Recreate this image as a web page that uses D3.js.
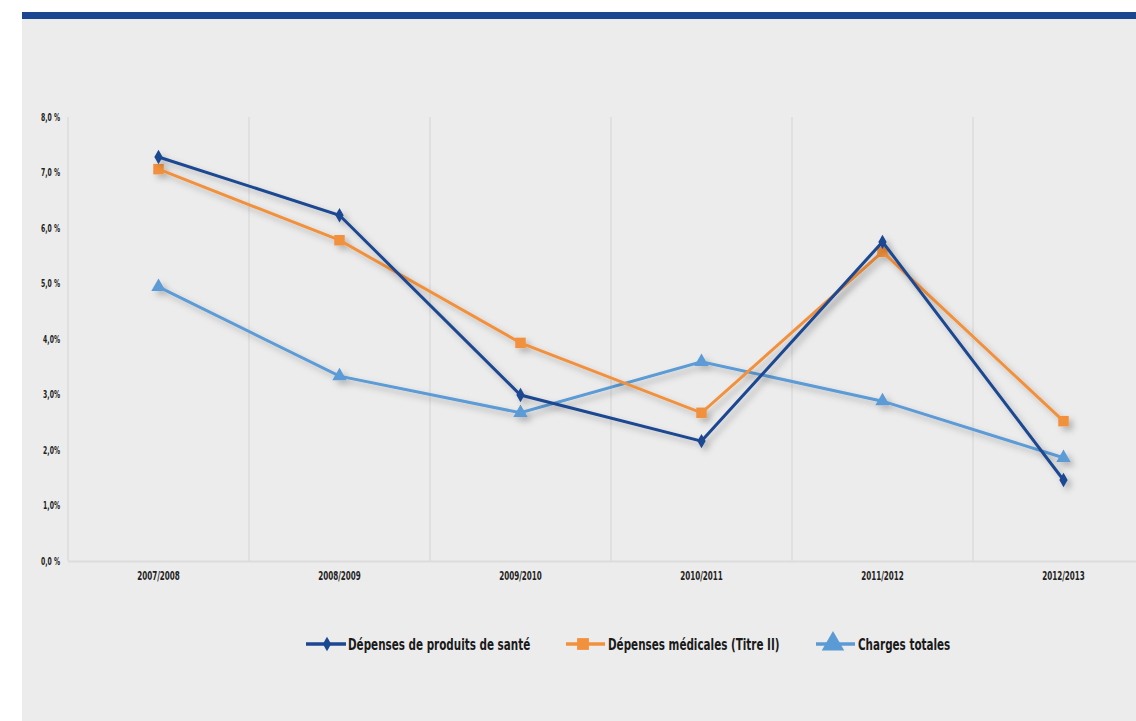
<!DOCTYPE html>
<html><head><meta charset="utf-8">
<script src="https://cdn.jsdelivr.net/npm/d3@7"></script>
<style>
html,body{margin:0;padding:0;background:#fff;}
svg{display:block;}
text{font-family:"DejaVu Sans",sans-serif;font-weight:bold;fill:#1a1a1a;}
</style></head>
<body>
<script>
const categories = ["2007/2008","2008/2009","2009/2010","2010/2011","2011/2012","2012/2013"];
const produitsSante = [7.28, 6.23, 2.99, 2.16, 5.75, 1.46];
const depensesMedicales = [7.06, 5.78, 3.93, 2.67, 5.57, 2.52];
const chargesTotales = [4.94, 3.33, 2.67, 3.59, 2.88, 1.86];
const yTicks = [0,1,2,3,4,5,6,7,8];
const yTickLabels = ["0,0 %","1,0%","2,0%","3,0%","4,0%","5,0 %","6,0 %","7,0 %","8,0 %"];
const seriesNames = ["Dépenses de produits de santé","Dépenses médicales (Titre II)","Charges totales"];

const W = 1136, H = 721;
const svg = d3.select("body").append("svg").attr("width", W).attr("height", H);

function condense(sel, ratio){
  sel.each(function(){
    const len = this.getComputedTextLength();
    d3.select(this).attr("textLength", len*ratio).attr("lengthAdjust","spacingAndGlyphs");
  });
}

const defs = svg.append("defs");
const f = defs.append("filter").attr("id","shadow").attr("x","-20%").attr("y","-20%").attr("width","140%").attr("height","140%");
f.append("feDropShadow").attr("dx",4).attr("dy",4).attr("stdDeviation",3).attr("flood-color","#000").attr("flood-opacity",0.25);

// panel
svg.append("rect").attr("x",22).attr("y",19).attr("width",W-22).attr("height",H-19).attr("fill","#ececec");
svg.append("rect").attr("x",22).attr("y",12).attr("width",W-22).attr("height",7).attr("fill","#1b4790");

const x = d3.scaleBand().domain(categories).range([68, 68 + 181*6]);
const y = d3.scaleLinear().domain([0,8]).range([561,117]);

// vertical grid lines
const g = svg.append("g");
const bounds = categories.map(c => x(c)).concat([x.range()[1]]);
g.selectAll("line.vg").data(bounds).join("line")
  .attr("x1", d=>d).attr("x2", d=>d).attr("y1", y(8)).attr("y2", y(0))
  .attr("stroke","#dcdcdc").attr("stroke-width",1.5);
// baseline
g.append("line").attr("x1",68).attr("x2",W).attr("y1",y(0)+0.5).attr("y2",y(0)+0.5)
  .attr("stroke","#dcdcdc").attr("stroke-width",2);

// y axis labels
const yAxis = d3.axisLeft(y).tickValues(yTicks).tickFormat((d,i)=>yTickLabels[i]).tickSize(0).tickPadding(8);
const ya = svg.append("g").attr("transform","translate(68,0)").call(yAxis);
ya.select(".domain").remove();
ya.selectAll("text").attr("font-size",10.5).attr("font-family",null).style("fill","#222");
condense(ya.selectAll("text"), 0.58);

// x axis labels
const xAxis = d3.axisBottom(x).tickSize(0).tickPadding(10);
const xa = svg.append("g").attr("transform",`translate(0,${y(0)})`).call(xAxis);
xa.select(".domain").remove();
xa.selectAll("text").attr("font-size",12).attr("font-family",null).style("fill","#222");
condense(xa.selectAll("text"), 0.6);

const cx = c => x(c) + x.bandwidth()/2;
const colors = ["#1c4791","#f2913d","#5b9bd5"];
const datasets = [produitsSante, depensesMedicales, chargesTotales];
const line = d3.line().x((d,i)=>cx(categories[i])).y(d=>y(d));

const symbolsPlot = [
  d3.symbol().type(d3.symbolDiamond).size(60),
  d3.symbol().type(d3.symbolSquare).size(110),
  d3.symbol().type(d3.symbolTriangle).size(90)
];
const symbolsLegend = [
  d3.symbol().type(d3.symbolDiamond).size(60),
  d3.symbol().type(d3.symbolSquare).size(140),
  d3.symbol().type(d3.symbolTriangle).size(220)
];

[2,1,0].forEach(k => {
  const sg = svg.append("g").attr("filter","url(#shadow)");
  sg.append("path").datum(datasets[k]).attr("d", line).attr("fill","none")
    .attr("stroke", colors[k]).attr("stroke-width",3).attr("stroke-linejoin","miter");
  sg.selectAll("path.m").data(datasets[k]).join("path").attr("class","m")
    .attr("transform",(d,i)=>`translate(${cx(categories[i])},${y(d)})`)
    .attr("d", symbolsPlot[k]()).attr("fill", colors[k]);
});

// legend
const legendItems = [
  {lx1:306, lx2:346, mx:327, tx:348},
  {lx1:566, lx2:605, mx:583, tx:608},
  {lx1:816, lx2:855, mx:833, tx:858}
];
const ly = 644;
legendItems.forEach((it,k)=>{
  const lg = svg.append("g");
  lg.append("line").attr("x1",it.lx1).attr("x2",it.lx2).attr("y1",ly).attr("y2",ly)
    .attr("stroke",colors[k]).attr("stroke-width",3.5);
  lg.append("path").attr("transform",`translate(${it.mx},${ly})`)
    .attr("d", symbolsLegend[k]()).attr("fill",colors[k]);
  const t = lg.append("text").attr("x",it.tx).attr("y",ly+6).attr("font-size",15.5).text(seriesNames[k]);
  condense(t, 0.67);
});
</script>
</body></html>
